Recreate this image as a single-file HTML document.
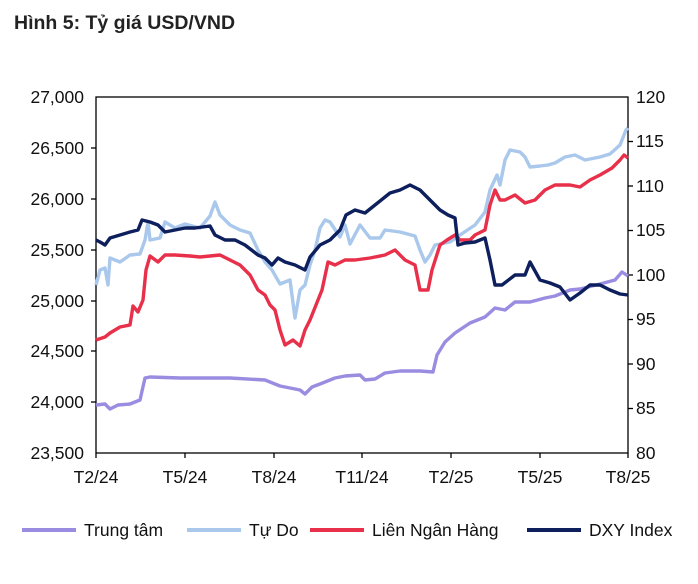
<!DOCTYPE html>
<html><head><meta charset="utf-8"><style>
body{margin:0;background:#fff;width:698px;height:579px;overflow:hidden;font-family:"Liberation Sans",sans-serif}
</style></head><body>
<svg width="698" height="579" xmlns="http://www.w3.org/2000/svg" font-family="Liberation Sans, sans-serif">
<text x="14" y="29" font-size="19.5" font-weight="bold" fill="#222">Hình 5: Tỷ giá USD/VND</text>
<rect x="96" y="97" width="532" height="356" fill="none" stroke="#000" stroke-width="1.3"/>
<g font-size="17.5" fill="#111" text-anchor="end">
<text x="84" y="103">27,000</text><text x="84" y="154">26,500</text><text x="84" y="205">26,000</text>
<text x="84" y="256">25,500</text><text x="84" y="307">25,000</text><text x="84" y="357">24,500</text>
<text x="84" y="408">24,000</text><text x="84" y="459">23,500</text>
</g>
<g font-size="17.5" fill="#111">
<text x="636" y="103">120</text><text x="636" y="147">115</text><text x="636" y="192">110</text>
<text x="636" y="236">105</text><text x="636" y="281">100</text><text x="636" y="325">95</text>
<text x="636" y="370">90</text><text x="636" y="414">85</text><text x="636" y="459">80</text>
</g>
<g stroke="#000" stroke-width="1.3">
<line x1="628" y1="141.5" x2="633" y2="141.5"/><line x1="628" y1="186" x2="633" y2="186"/><line x1="628" y1="230.5" x2="633" y2="230.5"/><line x1="628" y1="275" x2="633" y2="275"/><line x1="628" y1="319.5" x2="633" y2="319.5"/><line x1="628" y1="364" x2="633" y2="364"/><line x1="628" y1="408.5" x2="633" y2="408.5"/>
<line x1="91" y1="148" x2="96" y2="148"/><line x1="91" y1="199" x2="96" y2="199"/><line x1="91" y1="250" x2="96" y2="250"/><line x1="91" y1="301" x2="96" y2="301"/><line x1="91" y1="351" x2="96" y2="351"/><line x1="91" y1="402" x2="96" y2="402"/>
<line x1="96" y1="453" x2="96" y2="458"/><line x1="185" y1="453" x2="185" y2="458"/><line x1="274" y1="453" x2="274" y2="458"/><line x1="362" y1="453" x2="362" y2="458"/><line x1="451" y1="453" x2="451" y2="458"/><line x1="540" y1="453" x2="540" y2="458"/><line x1="628" y1="453" x2="628" y2="458"/>
</g>
<g font-size="17.5" fill="#111" text-anchor="middle">
<text x="96" y="483">T2/24</text><text x="185" y="483">T5/24</text><text x="274" y="483">T8/24</text><text x="362" y="483">T11/24</text><text x="451" y="483">T2/25</text><text x="540" y="483">T5/25</text><text x="628" y="483">T8/25</text>
</g>
<g fill="none" stroke-width="3.4" stroke-linejoin="round">
<polyline stroke="#9a8ce0" points="96,405 105,404 110,409 118,405 130,404 140,400 145,378 150,377 180,378 230,378 265,380 280,386 300,390 305,394 312,387 320,384 335,378 345,376 360,375 365,380 375,379 385,373 400,371 420,371 433,372 437,355 445,342 455,333 470,323 485,317 495,308 505,310 515,302 530,302 545,298 555,296 570,290 580,289 600,284 615,280 622,272 628,276"/>
<polyline stroke="#a9c8ec" points="96,285 100,270 105,268 108,285 110,258 120,262 130,255 140,254 145,240 148,222 150,240 160,238 165,222 175,228 185,224 200,228 210,216 215,202 220,215 230,225 240,230 250,233 258,250 265,262 272,270 280,284 290,280 295,318 300,290 305,285 310,265 315,250 320,228 325,220 330,222 340,237 345,225 350,244 360,225 370,238 380,238 385,230 400,232 415,236 420,250 425,262 430,255 435,245 450,242 460,235 475,225 485,212 490,190 497,175 500,185 505,160 510,150 520,152 525,157 530,167 540,166 548,165 555,163 565,157 575,155 585,160 600,157 610,154 620,145 626,130 628,128"/>
<polyline stroke="#e8304a" points="96,340 105,337 110,333 120,327 130,325 133,306 138,312 143,300 146,270 150,256 158,262 165,255 175,255 190,256 200,257 210,256 220,255 230,260 240,265 250,275 258,290 265,295 270,305 275,310 280,330 285,345 293,340 300,346 305,330 310,320 318,300 322,290 328,262 335,265 345,260 355,260 370,258 385,255 395,250 405,260 415,265 420,290 428,290 432,270 440,245 447,240 455,235 460,240 470,240 475,235 485,230 490,205 495,190 500,200 505,200 515,195 525,203 535,200 545,190 555,185 570,185 580,187 590,180 600,175 612,168 620,160 624,155 628,158"/>
<polyline stroke="#0d1f5c" points="96,240 100,242 105,245 110,238 120,235 130,232 138,230 142,220 150,222 158,225 165,232 175,230 185,228 195,228 210,226 215,235 225,240 235,240 245,245 258,255 265,258 272,265 278,258 285,262 295,265 305,270 310,257 320,245 330,240 340,230 346,215 355,210 365,213 375,205 390,193 400,190 410,185 420,190 430,200 440,210 448,215 455,218 458,245 465,243 475,242 485,238 490,260 495,285 502,285 515,275 525,275 530,262 540,280 550,283 560,287 570,300 580,293 590,285 600,285 610,290 620,294 628,295"/>
</g>
<g stroke-width="4">
<line x1="22" y1="530" x2="76" y2="530" stroke="#9a8ce0"/>
<line x1="187" y1="530" x2="241" y2="530" stroke="#a9c8ec"/>
<line x1="310" y1="530" x2="364" y2="530" stroke="#e8304a"/>
<line x1="527" y1="530" x2="581" y2="530" stroke="#0d1f5c"/>
</g>
<g font-size="17.5" fill="#111">
<text x="84" y="536">Trung tâm</text><text x="249" y="536">Tự Do</text><text x="372" y="536">Liên Ngân Hàng</text><text x="589" y="536">DXY Index</text>
</g>
</svg>
</body></html>
